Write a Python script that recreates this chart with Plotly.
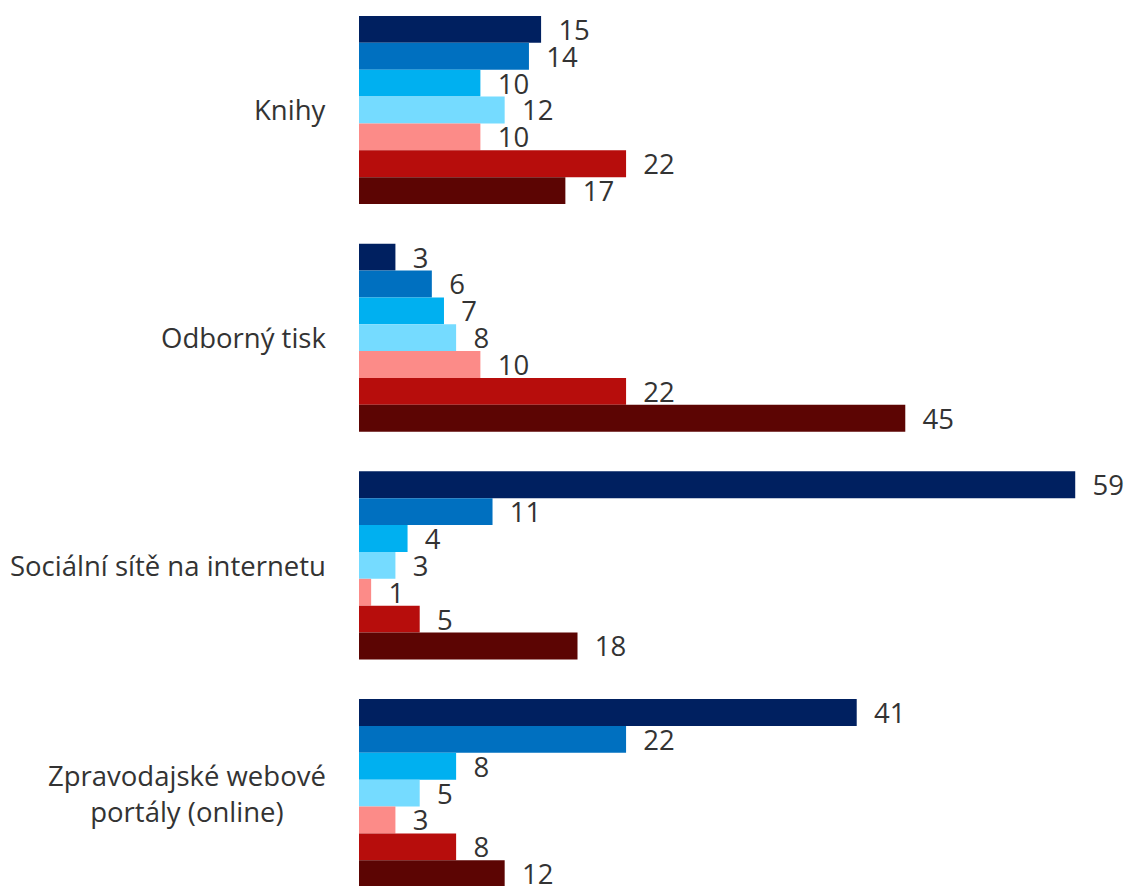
import plotly.graph_objects as go

# Categories (top to bottom) and the seven series shown in each group
categories = ["Knihy", "Odborný tisk", "Sociální sítě na internetu",
              "Zpravodajské webové<br>portály (online)"]

series_names = ["Řada 1", "Řada 2", "Řada 3", "Řada 4", "Řada 5", "Řada 6", "Řada 7"]

series_values = [
    [15, 3, 59, 41],
    [14, 6, 11, 22],
    [10, 7, 4, 8],
    [12, 8, 3, 5],
    [10, 10, 1, 3],
    [22, 22, 5, 8],
    [17, 45, 18, 12],
]

colors = ["#002060", "#0070C0", "#00B0F0", "#75DBFF", "#FC8B88", "#B70D0C", "#5C0503"]

text_color = "#333333"
font_family = "Open Sans, Noto Sans, sans-serif"
font_size = 27.5

fig = go.Figure()
for name, vals, col in zip(series_names, series_values, colors):
    fig.add_trace(go.Bar(
        name=name,
        y=categories,
        x=vals,
        orientation="h",
        marker=dict(color=col, line=dict(width=0)),
        text=vals,
        texttemplate="\u00a0\u00a0%{x}",
        textposition="outside",
        constraintext="none",
        cliponaxis=False,
        textfont=dict(size=font_size, color=text_color, family=font_family),
        hoverinfo="skip",
    ))

# Category labels as centred (multi-line) annotations left of the bars
for cat in categories:
    fig.add_annotation(
        x=0, xref="paper", y=cat, yref="y",
        xanchor="right", yanchor="middle", xshift=-31,
        text=cat, showarrow=False, align="center",
        font=dict(size=font_size, color=text_color, family=font_family),
    )

fig.update_layout(
    width=1125,
    height=886,
    margin=dict(l=359, r=0, t=0, b=0),
    paper_bgcolor="white",
    plot_bgcolor="white",
    barmode="group",
    bargap=0.174,
    bargroupgap=0,
    showlegend=False,
    font=dict(family=font_family, size=font_size, color=text_color),
)

fig.update_xaxes(
    range=[0, 63.1],
    showgrid=False,
    zeroline=False,
    showline=False,
    showticklabels=False,
    ticks="",
)

fig.update_yaxes(
    type="category",
    categoryorder="array",
    categoryarray=categories,
    range=[3.408, -0.483],
    showgrid=False,
    zeroline=False,
    showline=False,
    ticks="",
    showticklabels=False,
)

fig.write_html("out.html")
